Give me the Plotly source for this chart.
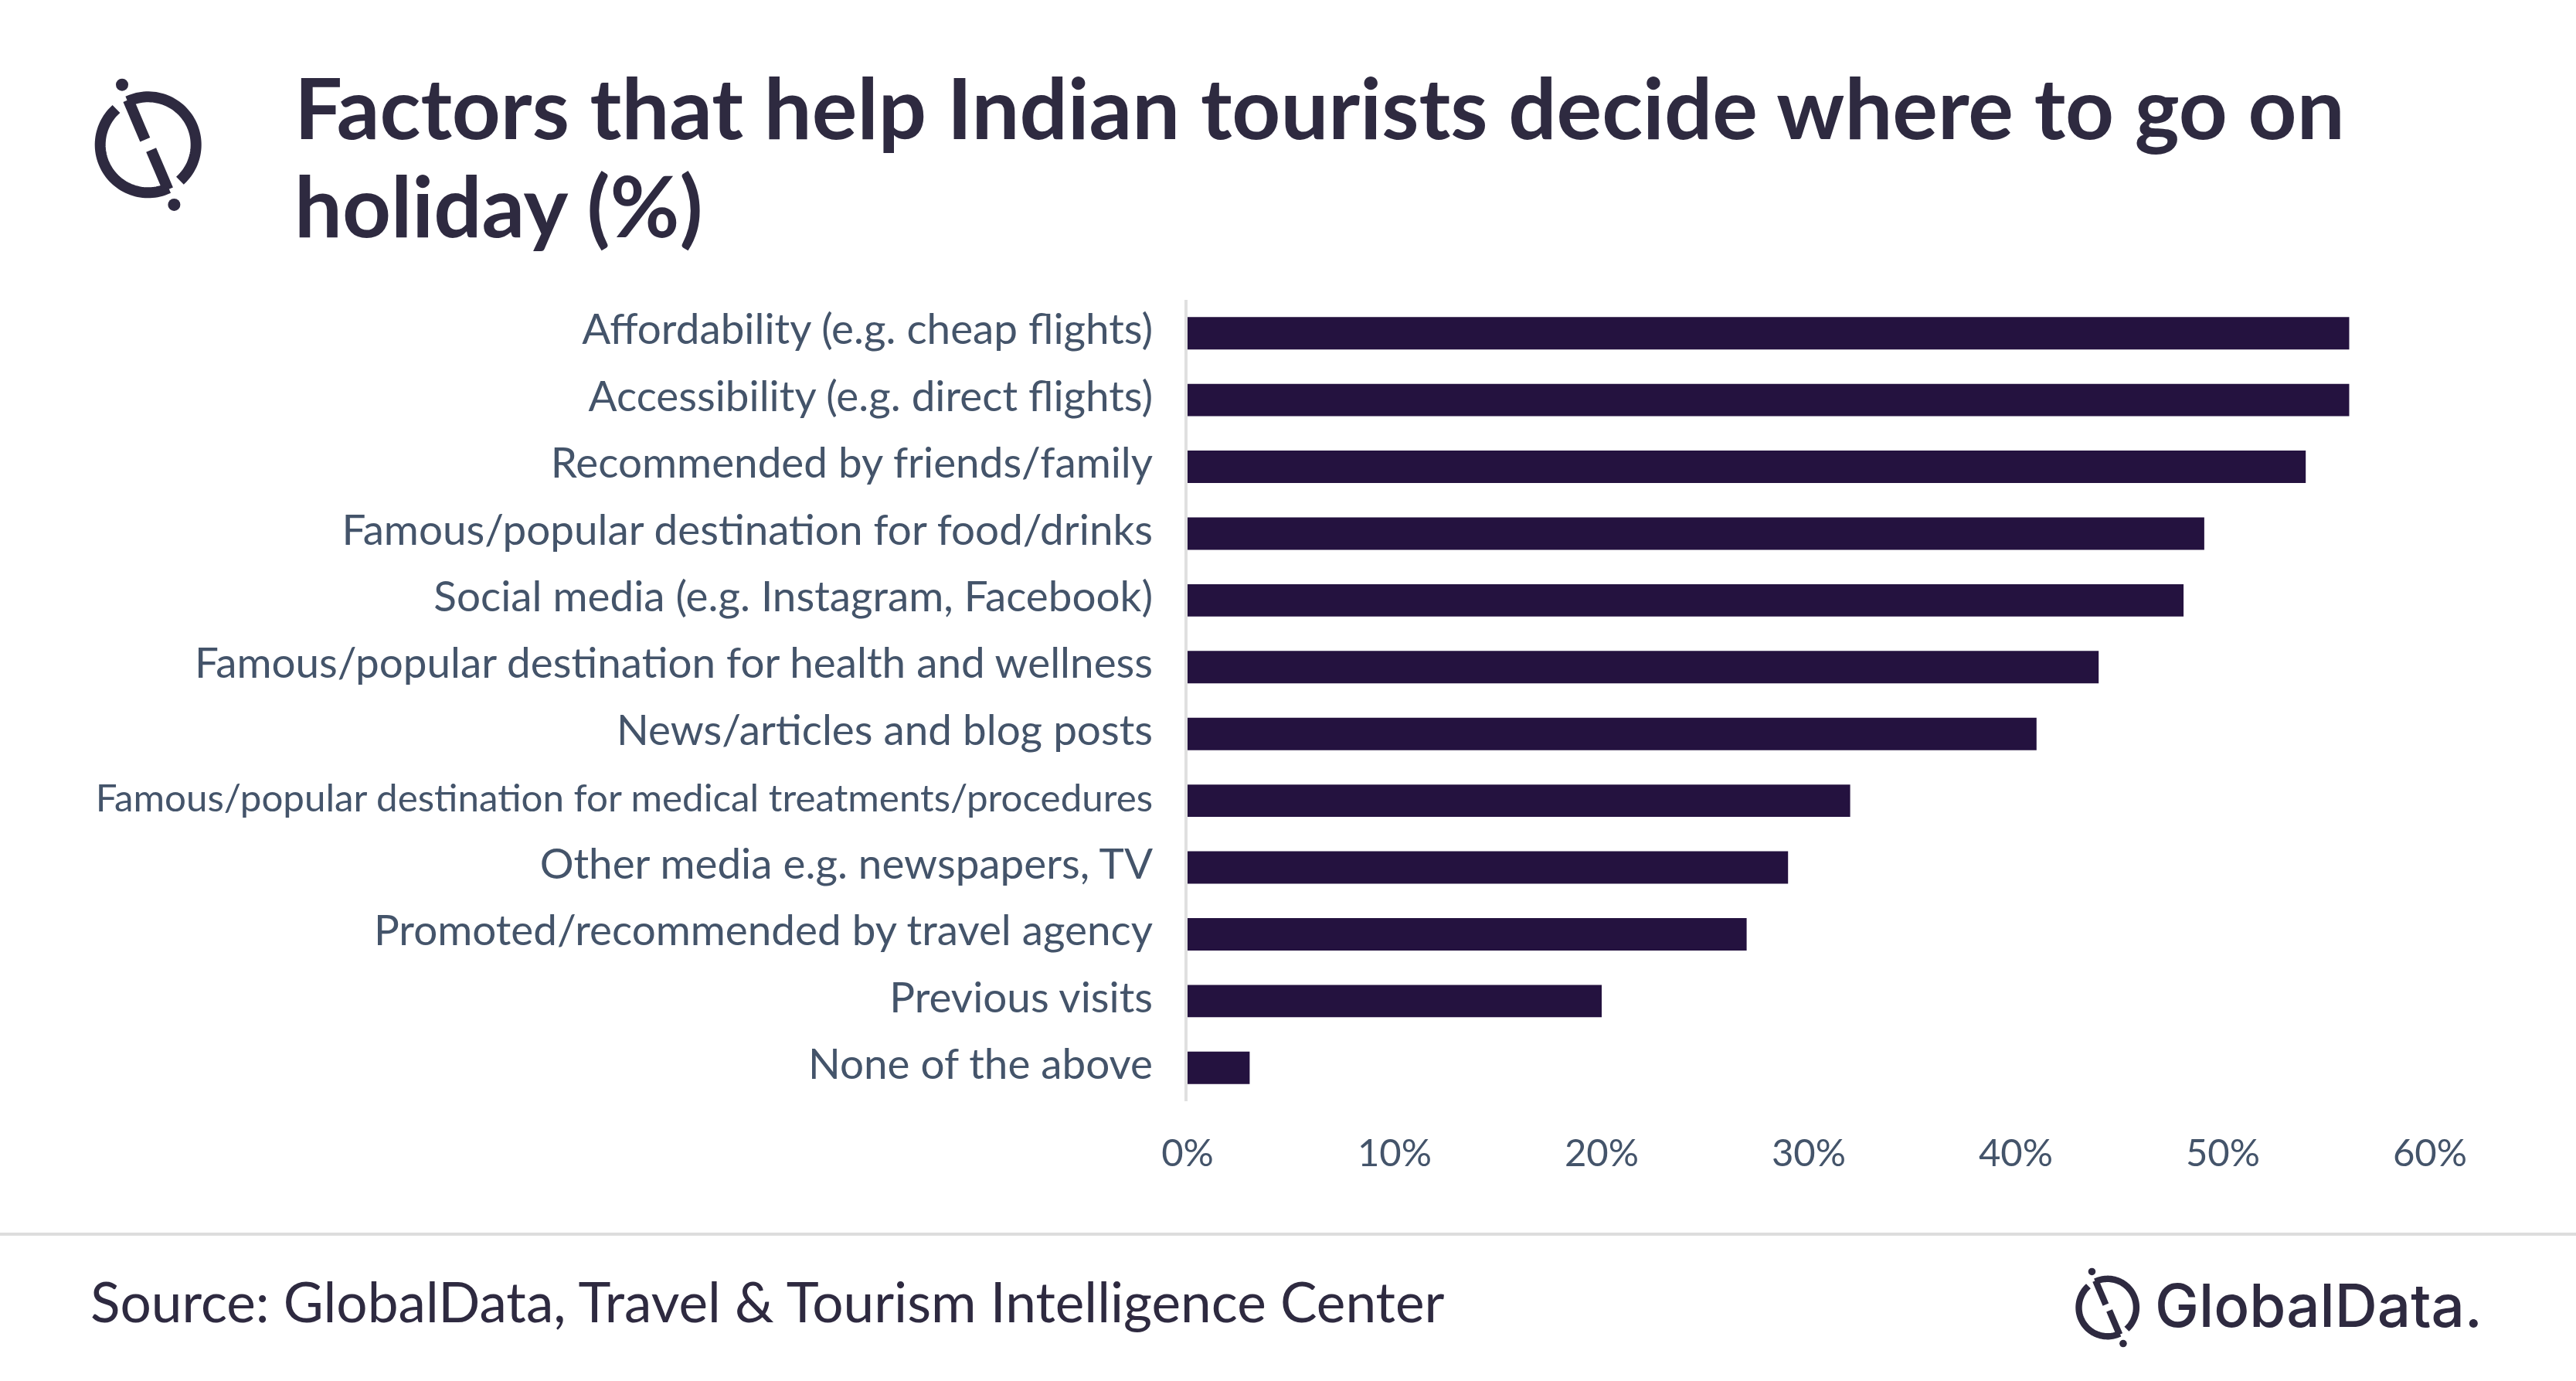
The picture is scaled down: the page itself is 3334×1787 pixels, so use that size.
import numpy as np
import plotly.graph_objects as go

W, H = 3334, 1787

categories = [
    "Affordability (e.g. cheap flights)",
    "Accessibility (e.g. direct flights)",
    "Recommended by friends/family",
    "Famous/popular destination for food/drinks",
    "Social media (e.g. Instagram, Facebook)",
    "Famous/popular destination for health and wellness",
    "News/articles and blog posts",
    "Famous/popular destination for medical treatments/procedures",
    "Other media e.g. newspapers, TV",
    "Promoted/recommended by travel agency",
    "Previous visits",
    "None of the above",
]
values = [56.1, 56.1, 54, 49.1, 48.1, 44, 41, 32, 29, 27, 20, 3]
x_ticks = [0, 10, 20, 30, 40, 50, 60]
x_labels = ["0%", "10%", "20%", "30%", "40%", "50%", "60%"]

DARK = "#2e2a40"
BAR = "#24123f"
SLATE = "#44546a"
FONT = "Lato"


def px(x):
    return x / W


def py(y):
    return 1 - y / H


def poly(points):
    return "M" + " L".join(f"{px(a):.5f},{py(b):.5f}" for a, b in points) + " Z"


def stroke(points, w):
    # thick line as a filled outline, drawn with the shape's own line so ends look round
    pts = np.array(points)
    d = np.gradient(pts, axis=0)
    n = np.column_stack([-d[:, 1], d[:, 0]])
    n = n / np.linalg.norm(n, axis=1, keepdims=True)
    return poly(list(pts + n * w / 2) + list((pts - n * w / 2)[::-1]))


def logo(cx, cy, k):
    out = []
    r = 62 * k
    sw = 11 * k
    pen = 3 * k

    def arc(a0, a1):
        t = np.radians(np.linspace(a0, a1, 60))
        return np.column_stack([cx + r * np.cos(t), cy - r * np.sin(t)])

    arc1 = arc(114, -47)
    arc2 = arc(294, 133)
    diag1 = np.linspace(arc1[0], [cx - 4.5 * k, cy - 8 * k], 5)
    diag2 = np.linspace(arc2[0], [cx + 4.5 * k, cy + 8 * k], 5)
    for p in (arc1, arc2, diag1, diag2):
        out.append(dict(type="path", xref="paper", yref="paper", path=stroke(p, sw),
                        fillcolor=DARK, line=dict(color=DARK, width=pen)))
    for dx, dy in ((-33.7, -77.6), (33.7, 77.6)):
        out.append(dict(type="circle", xref="paper", yref="paper",
                        x0=px(cx + (dx - 8) * k), x1=px(cx + (dx + 8) * k),
                        y0=py(cy + (dy + 8) * k), y1=py(cy + (dy - 8) * k),
                        fillcolor=DARK, line=dict(width=0)))
    return out


fig = go.Figure(go.Bar(
    x=values,
    y=categories,
    orientation="h",
    marker=dict(color=BAR, line=dict(width=0)),
))

shapes = logo(191.7, 187.3, 1) + logo(2727.7, 1692, 0.6)
shapes.append(dict(type="line", xref="paper", yref="paper", x0=0, x1=1,
                   y0=py(1597), y1=py(1597), line=dict(color="#dddddd", width=4)))

notes = [
    dict(text="<b>Factors that help Indian tourists decide where to go on</b>",
         x=px(379), y=py(138), font=dict(size=109.8, color=DARK, family=FONT)),
    dict(text="<b>holiday (%)</b>",
         x=px(379), y=py(264), font=dict(size=109.8, color=DARK, family=FONT)),
    dict(text="Source: GlobalData, Travel &amp; Tourism Intelligence Center",
         x=px(115), y=py(1683), font=dict(size=71.2, color=DARK, family=FONT)),
    dict(text="GlobalData.",
         x=px(2787), y=py(1689), font=dict(size=76.3, color=DARK, family="Inter", weight=500)),
]
for n in notes:
    n.update(xref="paper", yref="paper", xanchor="left", yanchor="middle",
             showarrow=False, align="left")

# the long label is set smaller in the source chart so it fits
y_labels = [f'<span style="font-size:49.3px">{c}</span>' if len(c) > 55 else c for c in categories]

fig.update_layout(
    width=W,
    height=H,
    margin=dict(l=0, r=0, t=0, b=0),
    paper_bgcolor="white",
    plot_bgcolor="white",
    showlegend=False,
    bargap=0.514,
    shapes=shapes,
    annotations=notes,
    font=dict(family=FONT, color=SLATE),
)
fig.update_xaxes(
    domain=[px(1537), px(3145)],
    range=[0, 60],
    automargin=False,
    tickvals=x_ticks,
    ticktext=x_labels,
    showgrid=False,
    zeroline=False,
    showline=False,
    ticks="",
    tickfont=dict(size=49, color=SLATE, family=FONT),
    ticklabelstandoff=34,
)
fig.update_yaxes(
    domain=[py(1425), py(388)],
    autorange="reversed",
    automargin=False,
    tickvals=categories,
    ticktext=y_labels,
    showgrid=False,
    zeroline=False,
    showline=True,
    linecolor="#e0e0e0",
    linewidth=4,
    ticks="",
    tickfont=dict(size=54.8, color=SLATE, family=FONT),
    ticklabelstandoff=30,
    ticklabelshift=5,
)

fig.write_html("out.html", config=dict(displayModeBar=False),
               post_script="document.body.style.margin='0'")
